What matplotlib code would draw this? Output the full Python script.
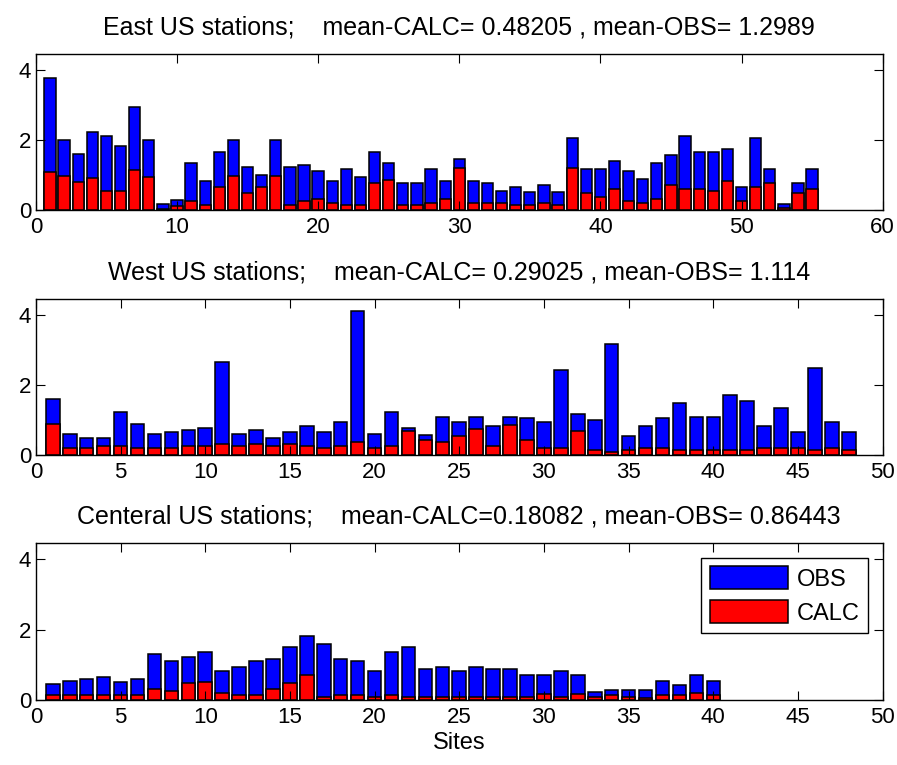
import matplotlib.pyplot as plt
import numpy as np

plt.rcParams['font.family'] = ['Liberation Sans', 'DejaVu Sans']

# East US stations
east_obs = [3.78, 2.00, 1.60, 2.24, 2.11, 1.83, 2.94, 2.00, 0.16, 0.28,
            1.33, 0.83, 1.66, 2.00, 1.23, 1.00, 2.00, 1.23, 1.28, 1.11,
            0.83, 1.17, 0.94, 1.66, 1.33, 0.76, 0.76, 1.17, 0.83, 1.47,
            0.83, 0.78, 0.55, 0.67, 0.50, 0.72, 0.50, 2.06, 1.17, 1.17,
            1.40, 1.11, 0.90, 1.34, 1.56, 2.11, 1.67, 1.67, 1.73, 0.67,
            2.06, 1.17, 0.16, 0.78, 1.17]
east_calc = [1.10, 0.98, 0.81, 0.92, 0.55, 0.55, 1.15, 0.93, 0.02, 0.10,
             0.26, 0.15, 0.66, 0.98, 0.49, 0.66, 0.98, 0.14, 0.27, 0.32,
             0.21, 0.15, 0.15, 0.76, 0.87, 0.15, 0.15, 0.21, 0.31, 1.21,
             0.21, 0.21, 0.21, 0.15, 0.15, 0.21, 0.15, 1.21, 0.48, 0.37,
             0.59, 0.26, 0.21, 0.31, 0.70, 0.59, 0.59, 0.54, 0.82, 0.26,
             0.66, 0.76, 0.05, 0.49, 0.59]

# West US stations
west_obs = [1.61, 0.61, 0.50, 0.50, 1.22, 0.89, 0.61, 0.67, 0.71, 0.78,
            2.67, 0.61, 0.71, 0.50, 0.67, 0.83, 0.67, 0.94, 4.11, 0.61,
            1.22, 0.78, 0.56, 1.10, 0.94, 1.10, 0.83, 1.10, 1.05, 0.94,
            2.44, 1.16, 0.99, 3.17, 0.55, 0.83, 1.06, 1.50, 1.10, 1.10,
            1.72, 1.55, 0.83, 1.33, 0.66, 2.50, 0.94, 0.66]
west_calc = [0.88, 0.21, 0.21, 0.26, 0.26, 0.21, 0.21, 0.21, 0.26, 0.26,
             0.31, 0.26, 0.31, 0.26, 0.31, 0.26, 0.21, 0.26, 0.36, 0.21,
             0.26, 0.70, 0.43, 0.36, 0.54, 0.74, 0.26, 0.87, 0.42, 0.20,
             0.20, 0.70, 0.14, 0.09, 0.14, 0.20, 0.20, 0.14, 0.14, 0.14,
             0.14, 0.14, 0.20, 0.20, 0.20, 0.14, 0.20, 0.14]

# Central US stations
cent_obs = [0.45, 0.55, 0.60, 0.66, 0.50, 0.60, 1.32, 1.10, 1.22, 1.37,
            0.83, 0.94, 1.10, 1.16, 1.50, 1.83, 1.60, 1.16, 1.10, 0.83,
            1.37, 1.50, 0.88, 0.93, 0.83, 0.93, 0.88, 0.88, 0.71, 0.71,
            0.83, 0.71, 0.22, 0.28, 0.28, 0.28, 0.55, 0.44, 0.71, 0.55]
cent_calc = [0.14, 0.14, 0.14, 0.14, 0.14, 0.14, 0.30, 0.26, 0.48, 0.52,
             0.20, 0.14, 0.14, 0.30, 0.48, 0.70, 0.09, 0.14, 0.14, 0.09,
             0.14, 0.09, 0.09, 0.09, 0.09, 0.09, 0.09, 0.09, 0.09, 0.16,
             0.09, 0.16, 0.09, 0.14, 0.09, 0.05, 0.14, 0.14, 0.21, 0.14]

titles = ['East US stations;    mean-CALC= 0.48205 , mean-OBS= 1.2989',
          'West US stations;    mean-CALC= 0.29025 , mean-OBS= 1.114',
          'Centeral US stations;    mean-CALC=0.18082 , mean-OBS= 0.86443']

fig = plt.figure(figsize=(8.97, 7.65), dpi=100)
fig.patch.set_facecolor('white')

# axes boxes in figure fractions (left, bottom, width, height)
boxes = [[0.040, 0.7255, 0.944, 0.204],
         [0.040, 0.4052, 0.944, 0.204],
         [0.040, 0.0850, 0.944, 0.205]]
panels = [(east_obs, east_calc, 60, 10),
          (west_obs, west_calc, 50, 5),
          (cent_obs, cent_calc, 50, 5)]

axes = []
for box, (obs, calc, xmax, step), title in zip(boxes, panels, titles):
    ax = fig.add_axes(box)
    x = np.arange(1, len(obs) + 1)
    ax.bar(x, obs, width=0.8, color='#0000ff', edgecolor='black', linewidth=1.1, label='OBS')
    ax.bar(x, calc, width=0.8, color='#ff0000', edgecolor='black', linewidth=1.1, label='CALC')
    ax.set_xlim(0, xmax)
    ax.set_ylim(0, 4.46)
    ax.set_xticks(np.arange(0, xmax + 1, step))
    ax.set_yticks([0, 2, 4])
    ax.tick_params(direction='in', top=True, right=True, length=6.5, labelsize=16)
    ax.tick_params(axis='x', pad=5)
    ax.set_title(title, fontsize=18, pad=14)
    for spine in ax.spines.values():
        spine.set_linewidth(1.0)
    axes.append(ax)

axes[2].set_xlabel('Sites', fontsize=17, labelpad=3)
leg = axes[2].legend(loc='upper right', fontsize=17, fancybox=False, edgecolor='black',
                     framealpha=1, handlelength=3.3, handleheight=1.1,
                     borderpad=0.35, labelspacing=0.4, handletextpad=0.4,
                     borderaxespad=0, bbox_to_anchor=(0.983, 0.904))
leg.get_frame().set_linewidth(1.0)

plt.savefig('out.png', dpi=100)
